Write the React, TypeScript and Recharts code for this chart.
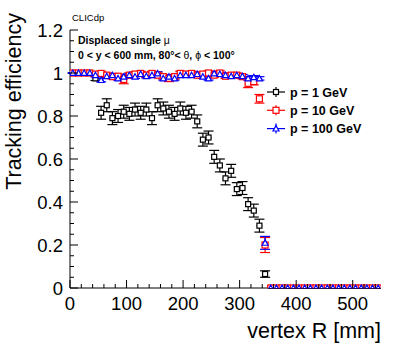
import { ComposedChart, ErrorBar, Scatter, XAxis, YAxis } from 'recharts';

// bin centres of vertex R [mm]
const radius = [
  5, 15, 25, 35, 45, 55, 65, 75, 85, 95, 105, 115, 125, 135, 145, 155, 165, 175, 185, 195,
  205, 215, 225, 235, 245, 255, 265, 275, 285, 295, 305, 315, 325, 335, 345, 355, 365, 375,
  385, 395, 405, 415, 425, 435, 445, 455, 465, 475, 485, 495, 505, 515, 525, 535, 545,
];

const eff1 = [
  1, 1, 1, 1, 0.975, 0.815, 0.85, 0.79, 0.8, 0.82, 0.81, 0.83, 0.815, 0.83, 0.79, 0.85, 0.835,
  0.82, 0.81, 0.835, 0.815, 0.82, 0.775, 0.69, 0.7, 0.61, 0.57, 0.51, 0.545, 0.46, 0.465, 0.39,
  0.36, 0.29, 0.065, 0, 0, 0, 0, 0, 0, 0, 0, 0, 0, 0, 0, 0, 0, 0, 0, 0, 0, 0, 0,
];
const err1 = [
  0.002, 0.002, 0.002, 0.002, 0.01, 0.03, 0.03, 0.03, 0.03, 0.03, 0.03, 0.03, 0.03, 0.03, 0.03,
  0.03, 0.03, 0.03, 0.03, 0.03, 0.03, 0.03, 0.03, 0.03, 0.03, 0.03, 0.03, 0.03, 0.03, 0.03,
  0.03, 0.03, 0.03, 0.03, 0.015, 0, 0, 0, 0, 0, 0, 0, 0, 0, 0, 0, 0, 0, 0, 0, 0, 0, 0, 0, 0,
];

const eff10 = [
  1, 1, 1, 1, 0.995, 0.998, 0.99, 0.983, 0.985, 0.97, 0.99, 0.995, 0.998, 0.99, 0.998, 0.99,
  0.983, 0.975, 0.983, 0.998, 0.995, 0.998, 0.99, 0.995, 1, 0.99, 1, 0.985, 0.99, 0.99, 0.983,
  0.952, 0.96, 0.88, 0.2, 0, 0, 0, 0, 0, 0, 0, 0, 0, 0, 0, 0, 0, 0, 0, 0, 0, 0, 0, 0,
];
const err10 = [
  0.002, 0.002, 0.002, 0.002, 0.008, 0.01, 0.01, 0.01, 0.01, 0.02, 0.01, 0.01, 0.01, 0.01, 0.01,
  0.01, 0.01, 0.015, 0.01, 0.01, 0.01, 0.01, 0.01, 0.01, 0.01, 0.01, 0.01, 0.01, 0.01, 0.01,
  0.01, 0.02, 0.015, 0.02, 0.035, 0, 0, 0, 0, 0, 0, 0, 0, 0, 0, 0, 0, 0, 0, 0, 0, 0, 0, 0, 0,
];

const eff100 = [
  1, 1, 1, 1, 0.99, 0.967, 0.985, 0.99, 0.975, 0.983, 0.99, 0.983, 0.995, 0.985, 0.99, 0.998,
  0.975, 0.983, 0.975, 0.99, 0.99, 0.99, 0.995, 0.983, 0.975, 0.998, 0.995, 0.99, 0.985, 0.99,
  0.985, 0.975, 0.98, 0.975, 0.21, 0, 0, 0, 0, 0, 0, 0, 0, 0, 0, 0, 0, 0, 0, 0, 0, 0, 0, 0, 0,
];
const err100 = [
  0.002, 0.002, 0.002, 0.002, 0.008, 0.008, 0.008, 0.008, 0.008, 0.008, 0.008, 0.008, 0.008,
  0.008, 0.008, 0.008, 0.008, 0.008, 0.008, 0.008, 0.008, 0.008, 0.008, 0.008, 0.008, 0.008,
  0.008, 0.008, 0.008, 0.008, 0.008, 0.008, 0.008, 0.008, 0.03, 0, 0, 0, 0, 0, 0, 0, 0, 0, 0,
  0, 0, 0, 0, 0, 0, 0, 0, 0, 0,
];

const binHalfWidth = 5;

const xMajorTicks = [0, 100, 200, 300, 400, 500];
const xTicks = [
  0, 20, 40, 60, 80, 100, 120, 140, 160, 180, 200, 220, 240, 260, 280, 300, 320, 340, 360, 380,
  400, 420, 440, 460, 480, 500, 520, 540,
];
const yMajorTicks = [0, 0.2, 0.4, 0.6, 0.8, 1, 1.2];
const yTicks = [
  0, 0.05, 0.1, 0.15, 0.2, 0.25, 0.3, 0.35, 0.4, 0.45, 0.5, 0.55, 0.6, 0.65, 0.7, 0.75, 0.8,
  0.85, 0.9, 0.95, 1, 1.05, 1.1, 1.15, 1.2,
];

const FONT = '"Liberation Sans", Arial, Helvetica, sans-serif';
const MAJOR = 8;
const MINOR = 4;

const toPoints = (eff: number[], err: number[]) =>
  radius.map((x, i) => ({ x, y: eff[i], ey: err[i], ex: binHalfWidth }));

const series = [
  { name: 'p = 1 GeV', color: '#000000', marker: 'square', size: 5, data: toPoints(eff1, err1) },
  { name: 'p = 10 GeV', color: '#ff0000', marker: 'square', size: 6, data: toPoints(eff10, err10) },
  { name: 'p = 100 GeV', color: '#0000ff', marker: 'triangle', size: 6, data: toPoints(eff100, err100) },
];

const Marker = ({ cx, cy, kind, size, color }: any) => {
  if (cx == null || cy == null) return null;
  const h = size / 2;
  if (kind === 'triangle') {
    return (
      <polygon
        points={`${cx},${cy - h} ${cx - h},${cy + h * 0.8} ${cx + h},${cy + h * 0.8}`}
        fill="#fff"
        stroke={color}
        strokeWidth={1.2}
      />
    );
  }
  return <rect x={cx - h} y={cy - h} width={size} height={size} fill="#fff" stroke={color} strokeWidth={1.2} />;
};

const BottomTick = ({ x, y, payload }: any) => {
  const major = xMajorTicks.includes(payload.value);
  return (
    <g>
      <line x1={x} x2={x} y1={y} y2={y - (major ? MAJOR : MINOR)} stroke="#000" />
      {major && (
        <text x={x} y={y + 22} textAnchor="middle" fontSize={18.5} fontFamily={FONT} fill="#000">
          {payload.value}
        </text>
      )}
    </g>
  );
};

const TopTick = ({ x, y, payload }: any) => {
  const major = xMajorTicks.includes(payload.value);
  return <line x1={x} x2={x} y1={y} y2={y + (major ? MAJOR : MINOR)} stroke="#000" />;
};

const LeftTick = ({ x, y, payload }: any) => {
  const major = yMajorTicks.includes(payload.value);
  return (
    <g>
      <line x1={x} x2={x + (major ? MAJOR : MINOR)} y1={y} y2={y} stroke="#000" />
      {major && (
        <text x={x - 7} y={y + 6.6} textAnchor="end" fontSize={18.5} fontFamily={FONT} fill="#000">
          {payload.value}
        </text>
      )}
    </g>
  );
};

const RightTick = ({ x, y, payload }: any) => {
  const major = yMajorTicks.includes(payload.value);
  return <line x1={x} x2={x - (major ? MAJOR : MINOR)} y1={y} y2={y} stroke="#000" />;
};

export default function App() {
  return (
    <div style={{ position: 'absolute', left: 0, top: 0, width: 415, height: 352, background: '#fff' }}>
      <ComposedChart width={415} height={352} margin={{ top: 30, right: 34, bottom: 0, left: 0 }}>
        <XAxis
          xAxisId="b"
          dataKey="x"
          type="number"
          domain={[0, 550]}
          ticks={xTicks}
          interval={0}
          height={64}
          tickSize={0}
          tickMargin={0}
          tickLine={false}
          tick={<BottomTick />}
          axisLine={{ stroke: '#000' }}
          allowDataOverflow
        />
        <XAxis
          xAxisId="t"
          orientation="top"
          dataKey="x"
          type="number"
          domain={[0, 550]}
          ticks={xTicks}
          interval={0}
          height={0}
          tickSize={0}
          tickMargin={0}
          tickLine={false}
          tick={<TopTick />}
          axisLine={{ stroke: '#000' }}
          allowDataOverflow
        />
        <YAxis
          yAxisId="l"
          dataKey="y"
          type="number"
          domain={[0, 1.2]}
          ticks={yTicks}
          interval={0}
          width={70}
          tickSize={0}
          tickMargin={0}
          tickLine={false}
          tick={<LeftTick />}
          axisLine={{ stroke: '#000' }}
          allowDataOverflow
        />
        <YAxis
          yAxisId="r"
          orientation="right"
          dataKey="y"
          type="number"
          domain={[0, 1.2]}
          ticks={yTicks}
          interval={0}
          width={0}
          tickSize={0}
          tickMargin={0}
          tickLine={false}
          tick={<RightTick />}
          axisLine={{ stroke: '#000' }}
          allowDataOverflow
        />
        {series.map((s) => (
          <Scatter
            key={s.name}
            name={s.name}
            data={s.data}
            xAxisId="b"
            yAxisId="l"
            isAnimationActive={false}
            shape={(p: any) => <Marker cx={p.cx} cy={p.cy} kind={s.marker} size={s.size} color={s.color} />}
          >
            <ErrorBar dataKey="ex" direction="x" width={0} stroke={s.color} strokeWidth={1.2} isAnimationActive={false} />
            <ErrorBar dataKey="ey" direction="y" width={5} stroke={s.color} strokeWidth={1.2} isAnimationActive={false} />
          </Scatter>
        ))}
      </ComposedChart>

      <svg
        width={415}
        height={352}
        style={{ position: 'absolute', left: 0, top: 0, pointerEvents: 'none' }}
        fontFamily={FONT}
      >
        <text x={72} y={21} fontSize={9.5}>CLICdp</text>
        <text x={78} y={44} fontSize={10.5} fontWeight="bold">
          Displaced single <tspan fontWeight="normal">μ</tspan>
        </text>
        <text x={78} y={59} fontSize={10.5} fontWeight="bold">
          0 &lt; y &lt; 600 mm, 80°&lt; <tspan fontWeight="normal">θ</tspan>, <tspan fontWeight="normal">ϕ</tspan> &lt; 100°
        </text>

        {series.map((s, i) => {
          const cy = 92 + i * 18.3;
          return (
            <g key={s.name}>
              <line x1={267} x2={285} y1={cy} y2={cy} stroke={s.color} strokeWidth={1.2} />
              <line x1={276} x2={276} y1={cy - 5} y2={cy + 5} stroke={s.color} strokeWidth={1.2} />
              <Marker cx={276} cy={cy} kind={s.marker} size={s.size} color={s.color} />
              <text x={290} y={cy + 4.5} fontSize={12.5} fontWeight="bold">{s.name}</text>
            </g>
          );
        })}

        <text transform="translate(21,13) rotate(-90)" textAnchor="end" fontSize={21.5}>
          Tracking efficiency
        </text>
        <text x={381} y={338} textAnchor="end" fontSize={21.5}>vertex R [mm]</text>
      </svg>
    </div>
  );
}
